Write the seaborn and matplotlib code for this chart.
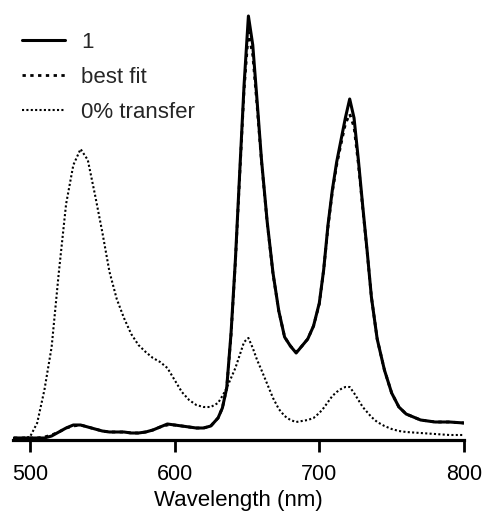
import matplotlib
matplotlib.use("Agg")
import matplotlib.pyplot as plt
import seaborn as sns
import pandas as pd

# wavelength grid (nm)
wavelength = [489, 495, 500, 505, 510, 515, 520, 525, 530, 535, 540, 545, 550, 555,
              560, 565, 570, 575, 580, 585, 590, 595, 600, 605, 610, 615, 620, 625,
              630, 633, 636, 639, 642, 645, 648, 651, 654, 657, 660, 664, 668, 672,
              676, 680, 684, 688, 692, 696, 700, 703, 706, 709, 712, 715, 718, 721,
              724, 727, 730, 733, 736, 740, 745, 750, 755, 760, 770, 780, 790, 800]

# emission intensity (arbitrary units)
sample_1 = [2, 2, 2, 2, 2, 4, 8, 12, 15, 15, 13, 11, 9, 8,
            8, 8, 7, 7, 8, 10, 13, 16, 15, 14, 13, 12, 12, 14,
            22, 32, 52, 107, 180, 268, 355, 424, 395, 339, 281, 218, 167, 129,
            103, 94, 87, 94, 101, 114, 137, 170, 215, 250, 278, 300, 322, 341,
            322, 280, 234, 190, 143, 101, 70, 47, 33, 26, 20, 18, 18, 17]

best_fit = [2, 2, 2, 2, 3, 5, 8, 12, 14, 15, 13, 11, 9, 8,
            8, 8, 7, 7, 8, 10, 13, 15, 15, 14, 13, 12, 12, 14,
            22, 32, 52, 105, 178, 265, 350, 408, 385, 334, 279, 217, 166, 129,
            103, 94, 88, 94, 101, 114, 136, 170, 213, 248, 275, 296, 316, 326,
            313, 276, 232, 189, 143, 101, 70, 47, 33, 26, 20, 18, 18, 17]

zero_transfer = [2, 2, 3, 17, 50, 93, 168, 236, 275, 291, 280, 245, 208, 168,
                 141, 122, 106, 95, 88, 82, 78, 72, 60, 48, 40, 35, 33, 33,
                 37, 44, 52, 62, 72, 85, 98, 102, 92, 80, 70, 56, 42, 31,
                 24, 20, 18, 19, 20, 22, 27, 32, 38, 44, 48, 51, 53, 53,
                 47, 40, 33, 28, 23, 18, 14, 11, 9, 8, 7, 6, 5, 5]

series_labels = ["1", "best fit", "0% transfer"]
x_ticks = [500, 600, 700, 800]

df = pd.DataFrame({"wl": wavelength, "s1": sample_1, "fit": best_fit, "zero": zero_transfer})

sns.set_style("white")
plt.rcParams["font.family"] = ["Liberation Sans", "DejaVu Sans"]

fig = plt.figure(figsize=(4.83, 5.12), dpi=100)
ax = fig.add_axes([13 / 483, 72 / 512, 451 / 483, 440 / 512])

sns.lineplot(data=df, x="wl", y="zero", ax=ax, color="black", linewidth=1.5,
             linestyle=(0, (1, 1.1)), label=series_labels[2])
sns.lineplot(data=df, x="wl", y="s1", ax=ax, color="black", linewidth=2.2,
             label=series_labels[0])
sns.lineplot(data=df, x="wl", y="fit", ax=ax, color="black", linewidth=2.0,
             linestyle=(0, (1.2, 1.6)), label=series_labels[1])

ax.set_xlim(488.3, 800)
ax.set_ylim(0, 440)
ax.set_yticks([])
ax.set_ylabel("")
for s in ["left", "top", "right"]:
    ax.spines[s].set_visible(False)
ax.spines["bottom"].set_linewidth(2.3)
ax.spines["bottom"].set_color("black")
ax.set_xticks(x_ticks)
ax.tick_params(axis="x", direction="out", length=8.6, width=2.0, pad=8.6,
               labelsize=15.5, color="black", labelcolor="black", bottom=True)
ax.set_xlabel("Wavelength (nm)", fontsize=16, labelpad=4.0, color="black")

handles, labels = ax.get_legend_handles_labels()
order = [labels.index(l) for l in series_labels]
ax.legend([handles[i] for i in order], [labels[i] for i in order],
          loc="upper left", bbox_to_anchor=(0.02, 0.928), frameon=False,
          fontsize=16, handlelength=1.95, handletextpad=0.7, labelspacing=0.63,
          borderpad=0, borderaxespad=0)

fig.savefig("out.png", dpi=100)
